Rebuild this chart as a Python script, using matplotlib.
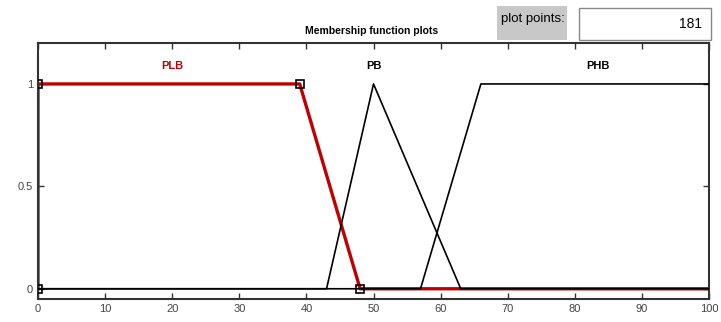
import matplotlib
matplotlib.use("Agg")
import matplotlib.pyplot as plt
from matplotlib.patches import Rectangle

plt.rcParams['font.family'] = ['Liberation Sans', 'DejaVu Sans']

# Data
plb_x = [0, 0, 39, 48, 100]
plb_y = [0, 1, 1, 0, 0]
plb_markers_x = [0, 0, 39, 48]
plb_markers_y = [0, 1, 1, 0]
pb_x = [0, 43, 50, 63, 100]
pb_y = [0, 0, 1, 0, 0]
phb_x = [0, 57, 66, 100]
phb_y = [0, 0, 1, 1]
mf_names = ["PLB", "PB", "PHB"]
mf_label_x = [20, 50, 83.5]
x_ticks = [0, 10, 20, 30, 40, 50, 60, 70, 80, 90, 100]
y_ticks = [0, 0.5, 1]
y_tick_labels = ["0", "0.5", "1"]
plot_points = "181"

fig = plt.figure(figsize=(7.21, 3.22), dpi=100)
ax = fig.add_axes([0.0527, 0.0714, 0.9307, 0.7951])

ax.plot(plb_x, plb_y, color="#c00000", lw=2.4, zorder=2)
ax.plot(pb_x, pb_y, color="black", lw=1.2, zorder=3)
ax.plot(phb_x, phb_y, color="black", lw=1.2, zorder=3)
ax.plot(plb_markers_x, plb_markers_y, ls="none", marker="s", ms=6,
        mfc="none", mec="black", mew=1.2, zorder=4)

colors = ["#c00000", "black", "black"]
for name, xx, c in zip(mf_names, mf_label_x, colors):
    ax.text(xx, 1.09, name, color=c, ha="center", va="center",
            fontsize=8, fontweight="bold")

ax.set_xlim(0, 100)
ax.set_ylim(-0.05, 1.2)
ax.set_xticks(x_ticks)
ax.set_yticks(y_ticks)
ax.set_yticklabels(y_tick_labels)
ax.tick_params(direction="in", top=True, right=True, labelsize=8,
               labelcolor="#444444", length=4, width=1, color="#333333")
for s in ax.spines.values():
    s.set_linewidth(1.5)
    s.set_color("#333333")

fig.text(0.516, 0.905, "Membership function plots", ha="center", va="center",
         fontsize=7.5, fontweight="bold")

# plot points controls
fig.patches.append(Rectangle((497/721, 1 - 40/322), 70/721, 34/322,
                             transform=fig.transFigure, facecolor="#c8c8c8",
                             edgecolor="none"))
fig.text(533/721, 1 - 19/322, "plot points:", ha="center", va="center",
         fontsize=9.5)
fig.patches.append(Rectangle((579/721, 1 - 40/322), 132/721, 32/322,
                             transform=fig.transFigure, facecolor="white",
                             edgecolor="#888888", lw=1))
fig.text(702/721, 1 - 24/322, plot_points, ha="right", va="center",
         fontsize=10)

fig.savefig("out.png", dpi=100)
